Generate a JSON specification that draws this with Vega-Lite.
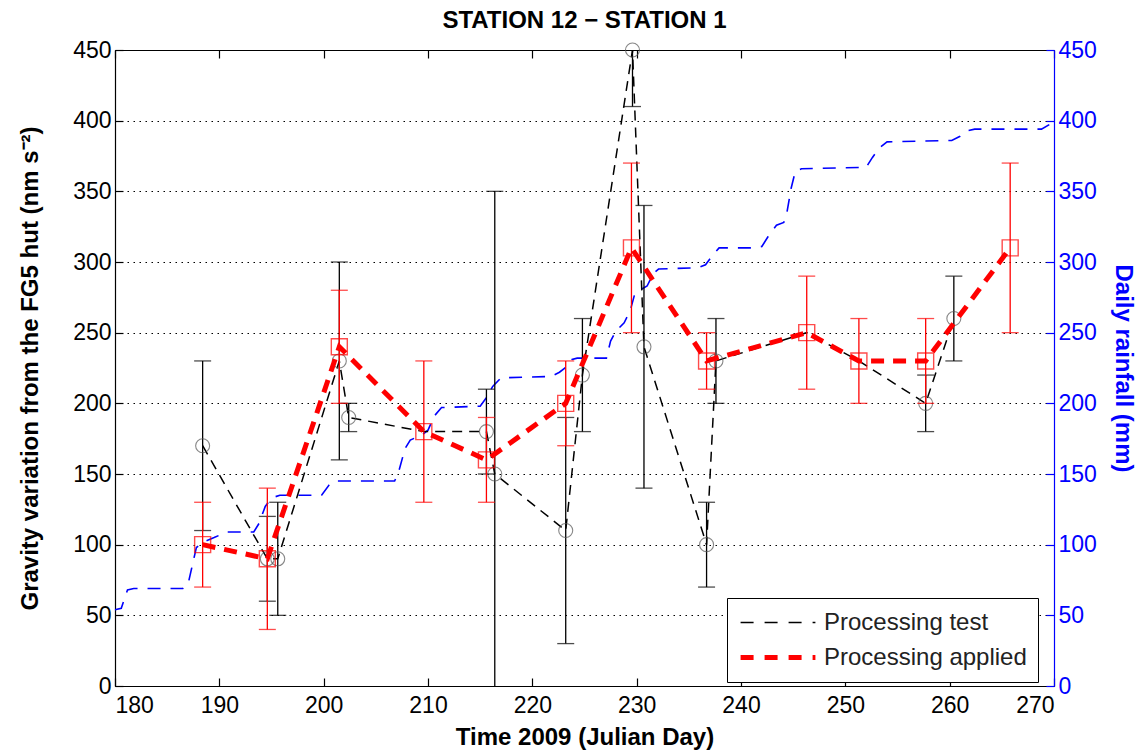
{
  "$schema": "https://vega.github.io/schema/vega-lite/v6.json",
  "width": 939,
  "height": 636,
  "autosize": {"type": "none"},
  "padding": {"left": 115, "top": 50, "right": 85, "bottom": 67},
  "background": "white",
  "title": {"text": "STATION 12 − STATION 1", "font": "Liberation Sans", "fontSize": 24, "fontWeight": "bold", "color": "black", "offset": 6},
  "config": {
    "view": {"stroke": null},
    "axis": {
      "labelFont": "Liberation Sans", "labelFontSize": 23, "labelColor": "black",
      "titleFont": "Liberation Sans", "titleFontSize": 24, "titleFontWeight": "bold", "titleColor": "black",
      "domainColor": "black", "domainWidth": 1.2, "tickColor": "black", "tickSize": -8, "tickWidth": 1.2,
      "grid": false
    }
  },
  "datasets": {
    "pts": [
      {"series": "Processing test", "day": 188.4, "val": 170, "lo": 110, "hi": 230},
      {"series": "Processing test", "day": 194.6, "val": 90, "lo": 60, "hi": 120},
      {"series": "Processing test", "day": 195.6, "val": 90, "lo": 50, "hi": 130},
      {"series": "Processing test", "day": 201.5, "val": 230, "lo": 160, "hi": 300},
      {"series": "Processing test", "day": 202.4, "val": 190, "lo": 180, "hi": 200},
      {"series": "Processing test", "day": 209.6, "val": 180, "lo": null, "hi": null},
      {"series": "Processing test", "day": 215.6, "val": 180, "lo": 150, "hi": 210},
      {"series": "Processing test", "day": 216.4, "val": 150, "lo": -50, "hi": 350},
      {"series": "Processing test", "day": 223.2, "val": 110, "lo": 30, "hi": 190},
      {"series": "Processing test", "day": 224.8, "val": 220, "lo": 180, "hi": 260},
      {"series": "Processing test", "day": 229.6, "val": 450, "lo": 410, "hi": 490},
      {"series": "Processing test", "day": 230.7, "val": 240, "lo": 140, "hi": 340},
      {"series": "Processing test", "day": 236.7, "val": 100, "lo": 70, "hi": 130},
      {"series": "Processing test", "day": 237.6, "val": 230, "lo": 200, "hi": 260},
      {"series": "Processing test", "day": 246.3, "val": 250, "lo": null, "hi": null},
      {"series": "Processing test", "day": 251.3, "val": 230, "lo": null, "hi": null},
      {"series": "Processing test", "day": 257.7, "val": 200, "lo": 180, "hi": 220},
      {"series": "Processing test", "day": 260.4, "val": 260, "lo": 230, "hi": 290},
      {"series": "Processing applied", "day": 188.4, "val": 100, "lo": 70, "hi": 130},
      {"series": "Processing applied", "day": 194.6, "val": 90, "lo": 40, "hi": 140},
      {"series": "Processing applied", "day": 201.5, "val": 240, "lo": 200, "hi": 280},
      {"series": "Processing applied", "day": 209.6, "val": 180, "lo": 130, "hi": 230},
      {"series": "Processing applied", "day": 215.6, "val": 160, "lo": 130, "hi": 190},
      {"series": "Processing applied", "day": 223.2, "val": 200, "lo": 170, "hi": 230},
      {"series": "Processing applied", "day": 229.5, "val": 310, "lo": 250, "hi": 370},
      {"series": "Processing applied", "day": 236.7, "val": 230, "lo": 210, "hi": 250},
      {"series": "Processing applied", "day": 246.3, "val": 250, "lo": 210, "hi": 290},
      {"series": "Processing applied", "day": 251.3, "val": 230, "lo": 200, "hi": 260},
      {"series": "Processing applied", "day": 257.7, "val": 230, "lo": 200, "hi": 260},
      {"series": "Processing applied", "day": 265.8, "val": 310, "lo": 250, "hi": 370}
    ],
    "rain": [
      {"day": 180.0, "mm": 54}, {"day": 180.6, "mm": 55}, {"day": 181.2, "mm": 68}, {"day": 181.8, "mm": 69},
      {"day": 186.5, "mm": 69}, {"day": 187.0, "mm": 72}, {"day": 187.4, "mm": 85}, {"day": 187.8, "mm": 98},
      {"day": 188.5, "mm": 102}, {"day": 189.5, "mm": 105}, {"day": 190.7, "mm": 109}, {"day": 193.3, "mm": 109},
      {"day": 193.8, "mm": 115}, {"day": 194.4, "mm": 127}, {"day": 195.0, "mm": 133}, {"day": 195.8, "mm": 135},
      {"day": 199.8, "mm": 135}, {"day": 200.5, "mm": 142}, {"day": 201.0, "mm": 145}, {"day": 206.8, "mm": 145},
      {"day": 207.2, "mm": 152}, {"day": 207.8, "mm": 168}, {"day": 208.3, "mm": 174}, {"day": 209.5, "mm": 178},
      {"day": 210.0, "mm": 181}, {"day": 210.6, "mm": 191}, {"day": 211.3, "mm": 197}, {"day": 215.0, "mm": 198},
      {"day": 215.6, "mm": 204}, {"day": 216.2, "mm": 212}, {"day": 217.0, "mm": 218}, {"day": 221.8, "mm": 219},
      {"day": 222.6, "mm": 222}, {"day": 223.3, "mm": 226}, {"day": 223.8, "mm": 231}, {"day": 224.3, "mm": 232},
      {"day": 227.1, "mm": 232}, {"day": 227.5, "mm": 244}, {"day": 228.0, "mm": 251}, {"day": 228.8, "mm": 257},
      {"day": 229.4, "mm": 266}, {"day": 229.8, "mm": 277}, {"day": 230.3, "mm": 280}, {"day": 231.0, "mm": 283},
      {"day": 231.6, "mm": 292}, {"day": 232.1, "mm": 295}, {"day": 235.9, "mm": 296}, {"day": 236.6, "mm": 298},
      {"day": 237.2, "mm": 304}, {"day": 237.9, "mm": 310}, {"day": 241.0, "mm": 310}, {"day": 242.0, "mm": 311},
      {"day": 242.6, "mm": 318}, {"day": 243.4, "mm": 326}, {"day": 244.1, "mm": 328}, {"day": 244.4, "mm": 335},
      {"day": 244.8, "mm": 352}, {"day": 245.2, "mm": 364}, {"day": 245.8, "mm": 366}, {"day": 252.0, "mm": 367},
      {"day": 252.6, "mm": 374}, {"day": 253.3, "mm": 381}, {"day": 254.0, "mm": 385}, {"day": 260.2, "mm": 386},
      {"day": 261.0, "mm": 389}, {"day": 261.8, "mm": 393}, {"day": 262.4, "mm": 394}, {"day": 268.8, "mm": 394},
      {"day": 269.5, "mm": 397}, {"day": 270.0, "mm": 401}
    ]
  },
  "layer": [
    {
      "data": {"name": "rain"},
      "mark": {"type": "line", "color": "#0000ff", "strokeWidth": 1.6, "strokeDash": [13, 10], "interpolate": "linear"},
      "encoding": {
        "x": {"field": "day", "type": "quantitative", "scale": {"domain": [180, 270], "nice": false},
              "axis": {"orient": "bottom", "values": [180, 190, 200, 210, 220, 230, 240, 250, 260, 270], "labelPadding": 16, "title": "Time 2009 (Julian Day)", "titlePadding": 8}},
        "y": {"field": "mm", "type": "quantitative", "scale": {"domain": [0, 450], "nice": false},
              "axis": {"orient": "right", "values": [0, 50, 100, 150, 200, 250, 300, 350, 400, 450], "title": "Daily rainfall (mm)",
                       "domainColor": "#0000ff", "tickColor": "#0000ff", "labelColor": "#0000ff", "titleColor": "#0000ff", "labelPadding": 12, "titlePadding": 14}}
      }
    },
    {
      "data": {"name": "pts"},
      "layer": [
        {
          "transform": [{"filter": "datum.series === 'Processing test' && datum.lo != null"}],
          "mark": {"type": "rule", "color": "black", "strokeWidth": 1.3, "clip": true},
          "encoding": {
            "x": {"field": "day", "type": "quantitative", "scale": {"domain": [180, 270], "nice": false},
                  "axis": {"orient": "top", "values": [180, 190, 200, 210, 220, 230, 240, 250, 260, 270], "labels": false, "title": null}},
            "y": {"field": "lo", "type": "quantitative", "scale": {"domain": [0, 450], "nice": false},
                  "axis": {"orient": "left", "values": [0, 50, 100, 150, 200, 250, 300, 350, 400, 450], "labelPadding": 12, "grid": true, "gridColor": "black", "gridDash": [1.5, 4.5], "gridWidth": 1, "gridOpacity": 1,
                           "title": "Gravity variation from the FG5 hut (nm s⁻²)", "titlePadding": 30}},
            "y2": {"field": "hi"}
          }
        },
        {
          "transform": [{"filter": "datum.series === 'Processing test' && datum.lo != null"}],
          "mark": {"type": "tick", "orient": "horizontal", "color": "black", "thickness": 1.3, "size": 17, "clip": true},
          "encoding": {"x": {"field": "day", "type": "quantitative"}, "y": {"field": "lo", "type": "quantitative"}}
        },
        {
          "transform": [{"filter": "datum.series === 'Processing test' && datum.lo != null"}],
          "mark": {"type": "tick", "orient": "horizontal", "color": "black", "thickness": 1.3, "size": 17, "clip": true},
          "encoding": {"x": {"field": "day", "type": "quantitative"}, "y": {"field": "hi", "type": "quantitative"}}
        },
        {
          "transform": [{"filter": "datum.series === 'Processing test'"}],
          "mark": {"type": "line", "strokeDash": [10, 7]},
          "encoding": {
            "x": {"field": "day", "type": "quantitative"},
            "y": {"field": "val", "type": "quantitative"},
            "color": {"field": "series", "type": "nominal", "scale": {"domain": ["Processing test", "Processing applied"], "range": ["black", "#ff0000"]},
                      "legend": {"orient": "none", "legendX": 612, "legendY": 548, "title": null, "strokeColor": "black", "fillColor": "white", "padding": 11,
                                 "labelFont": "Liberation Sans", "labelFontSize": 24, "labelColor": "#222", "labelLimit": 400, "symbolType": "stroke", "symbolSize": 5600, "symbolDash": [13, 11],
                                 "clipHeight": 27, "rowPadding": 8, "labelOffset": 6, "cornerRadius": 0}},
            "strokeWidth": {"field": "series", "type": "nominal", "scale": {"domain": ["Processing test", "Processing applied"], "range": [1.5, 5]}, "legend": null}
          }
        },
        {
          "transform": [{"filter": "datum.series === 'Processing test' && datum.lo != null"}],
          "mark": {"type": "point", "shape": "circle", "filled": false, "stroke": "#555", "strokeWidth": 1.1, "size": 196},
          "encoding": {"x": {"field": "day", "type": "quantitative"}, "y": {"field": "val", "type": "quantitative"}}
        },
        {
          "transform": [{"filter": "datum.series === 'Processing applied'"}],
          "mark": {"type": "rule", "color": "#ff0000", "strokeWidth": 1.3, "clip": true},
          "encoding": {"x": {"field": "day", "type": "quantitative"}, "y": {"field": "lo", "type": "quantitative"}, "y2": {"field": "hi"}}
        },
        {
          "transform": [{"filter": "datum.series === 'Processing applied'"}],
          "mark": {"type": "tick", "orient": "horizontal", "color": "#ff0000", "thickness": 1.3, "size": 17, "clip": true},
          "encoding": {"x": {"field": "day", "type": "quantitative"}, "y": {"field": "lo", "type": "quantitative"}}
        },
        {
          "transform": [{"filter": "datum.series === 'Processing applied'"}],
          "mark": {"type": "tick", "orient": "horizontal", "color": "#ff0000", "thickness": 1.3, "size": 17, "clip": true},
          "encoding": {"x": {"field": "day", "type": "quantitative"}, "y": {"field": "hi", "type": "quantitative"}}
        },
        {
          "transform": [{"filter": "datum.series === 'Processing applied'"}],
          "mark": {"type": "line", "strokeDash": [13, 9]},
          "encoding": {
            "x": {"field": "day", "type": "quantitative"},
            "y": {"field": "val", "type": "quantitative"},
            "color": {"field": "series", "type": "nominal"},
            "strokeWidth": {"field": "series", "type": "nominal", "legend": null}
          }
        },
        {
          "transform": [{"filter": "datum.series === 'Processing applied'"}],
          "mark": {"type": "point", "shape": "square", "filled": false, "stroke": "#ff0000", "strokeWidth": 1.4, "size": 256},
          "encoding": {"x": {"field": "day", "type": "quantitative"}, "y": {"field": "val", "type": "quantitative"}}
        }
      ]
    }
  ],
  "resolve": {"scale": {"y": "independent"}}
}
